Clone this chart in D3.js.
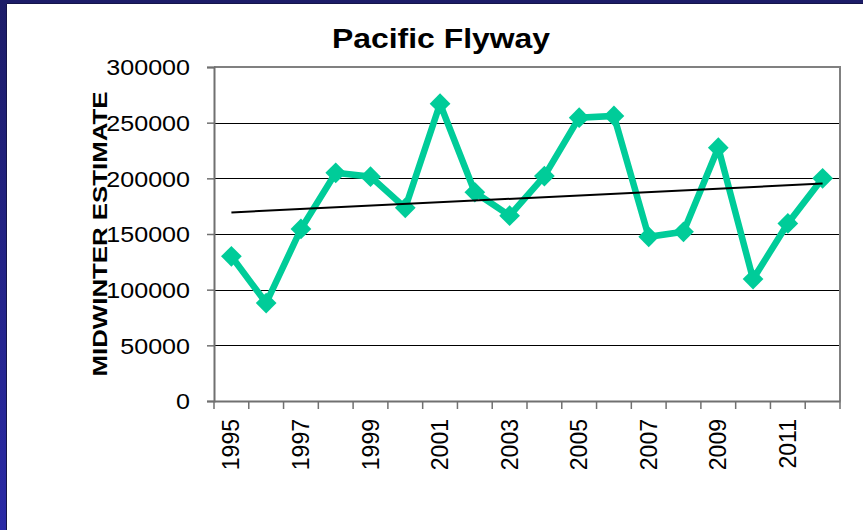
<!DOCTYPE html>
<html>
<head>
<meta charset="utf-8">
<script src="https://cdn.jsdelivr.net/npm/d3@7"></script>
<style>
html,body{margin:0;padding:0;background:#fff;}
svg{display:block;}
</style>
</head>
<body>
<script>
const title = "Pacific Flyway";
const yAxisTitle = "MIDWINTER ESTIMATE";
const years = [1995,1996,1997,1998,1999,2000,2001,2002,2003,2004,2005,2006,2007,2008,2009,2010,2011,2012];
const estimates = [130000,88000,154500,205000,201500,173500,267000,187500,166500,202000,254500,256000,147500,152000,227500,109500,159500,200000];
const yTicks = [0,50000,100000,150000,200000,250000,300000];
const xLabelYears = [1995,1997,1999,2001,2003,2005,2007,2009,2011];

const W = 863, H = 530;
const svg = d3.select("body").append("svg").attr("width", W).attr("height", H);

// frame background
const defs = svg.append("defs");
const g1 = defs.append("linearGradient").attr("id","frame").attr("x1",0).attr("y1",0).attr("x2",0).attr("y2",1);
g1.append("stop").attr("offset","0%").attr("stop-color","#1c1c68");
g1.append("stop").attr("offset","100%").attr("stop-color","#2a2aa6");
svg.append("rect").attr("width",W).attr("height",H).attr("fill","url(#frame)");
svg.append("rect").attr("x",7).attr("y",4).attr("width",W-7).attr("height",H-4).attr("fill","#fff");
svg.append("line").attr("x1",6.5).attr("x2",6.5).attr("y1",4).attr("y2",H).attr("stroke","#14144a").attr("stroke-width",1);
svg.append("line").attr("x1",7).attr("x2",W).attr("y1",3.5).attr("y2",3.5).attr("stroke","#14144a").attr("stroke-width",1);

const plot = {left:214, right:840, top:67, bottom:401};
const x = d3.scaleBand().domain(years).range([plot.left, plot.right]);
const y = d3.scaleLinear().domain([0,300000]).range([plot.bottom, plot.top]);
const cx = d => x(d) + x.bandwidth()/2;

// gridlines
svg.append("g").selectAll("line").data(yTicks.filter(v=>v>0 && v<300000)).join("line")
  .attr("x1",plot.left).attr("x2",plot.right)
  .attr("y1",d=>Math.round(y(d))+0.5).attr("y2",d=>Math.round(y(d))+0.5)
  .attr("stroke","#000").attr("stroke-width",1);

// plot border (top and right)
svg.append("path")
  .attr("d",`M${plot.left},${plot.top}H${plot.right}V${plot.bottom}`)
  .attr("fill","none").attr("stroke","#808080").attr("stroke-width",2);

// y axis
const yAxis = svg.append("g").attr("transform",`translate(${plot.left},0)`)
  .call(d3.axisLeft(y).tickValues(yTicks).tickSize(7).tickPadding(0).tickFormat(d3.format("d")));
yAxis.select(".domain").attr("stroke","#707070").attr("stroke-width",2);
yAxis.selectAll(".tick line").attr("stroke","#707070").attr("stroke-width",1.5);
yAxis.selectAll(".tick text").text(null);
yAxis.selectAll(".tick").append("text")
  .attr("fill","#000")
  .attr("font-family","Liberation Sans, Arial, sans-serif")
  .attr("font-size",22)
  .attr("text-anchor","end")
  .attr("dy","0.36em")
  .attr("transform","translate(-24,0) scale(1.14,1)")
  .text(d=>d3.format("d")(d));

// x axis
const xAxis = svg.append("g").attr("transform",`translate(0,${plot.bottom})`)
  .call(d3.axisBottom(x).tickSize(0).tickFormat(""));
xAxis.select(".domain").attr("stroke","#707070").attr("stroke-width",2);
const boundaries = years.map(d=>x(d)).concat([plot.right]);
xAxis.append("g").selectAll("line").data(boundaries).join("line")
  .attr("x1",d=>d).attr("x2",d=>d).attr("y1",0).attr("y2",8)
  .attr("stroke","#707070").attr("stroke-width",1.5);
xAxis.append("g").selectAll("text").data(xLabelYears).join("text")
  .attr("transform",d=>`translate(${cx(d)+8},18) rotate(-90)`)
  .attr("text-anchor","end")
  .attr("font-family","Liberation Sans, Arial, sans-serif")
  .attr("font-size",23)
  .attr("fill","#000")
  .text(d=>d);

// series line
const line = d3.line().x((d,i)=>cx(years[i])).y(d=>y(d));
svg.append("path").datum(estimates)
  .attr("d",line).attr("fill","none")
  .attr("stroke","#00cc99").attr("stroke-width",6.5).attr("stroke-linejoin","miter");

// markers
const sym = d3.symbol().type(d3.symbolSquare).size(215);
svg.append("g").selectAll("path").data(estimates).join("path")
  .attr("d",sym)
  .attr("transform",(d,i)=>`translate(${cx(years[i])},${y(d)}) rotate(45)`)
  .attr("fill","#00cc99");

// linear trendline (least squares on data)
const n = years.length;
const idx = years.map((d,i)=>i+1);
const mx = d3.mean(idx), my = d3.mean(estimates);
const slope = d3.sum(idx.map((v,i)=>(v-mx)*(estimates[i]-my))) / d3.sum(idx.map(v=>(v-mx)*(v-mx)));
const intercept = my - slope*mx;
svg.append("line")
  .attr("x1",cx(years[0])).attr("y1",y(intercept+slope*1))
  .attr("x2",cx(years[n-1])).attr("y2",y(intercept+slope*n))
  .attr("stroke","#000").attr("stroke-width",2);

// title
svg.append("text")
  .attr("x",441).attr("y",48)
  .attr("text-anchor","middle")
  .attr("font-family","Liberation Sans, Arial, sans-serif")
  .attr("font-weight","bold")
  .attr("font-size",28)
  .attr("textLength",218).attr("lengthAdjust","spacingAndGlyphs")
  .attr("fill","#000")
  .text(title);

// y axis title
svg.append("text")
  .attr("transform","translate(107,234) rotate(-90)")
  .attr("text-anchor","middle")
  .attr("font-family","Liberation Sans, Arial, sans-serif")
  .attr("font-weight","bold")
  .attr("font-size",21)
  .attr("textLength",285).attr("lengthAdjust","spacingAndGlyphs")
  .attr("fill","#000")
  .text(yAxisTitle);
</script>
</body>
</html>
